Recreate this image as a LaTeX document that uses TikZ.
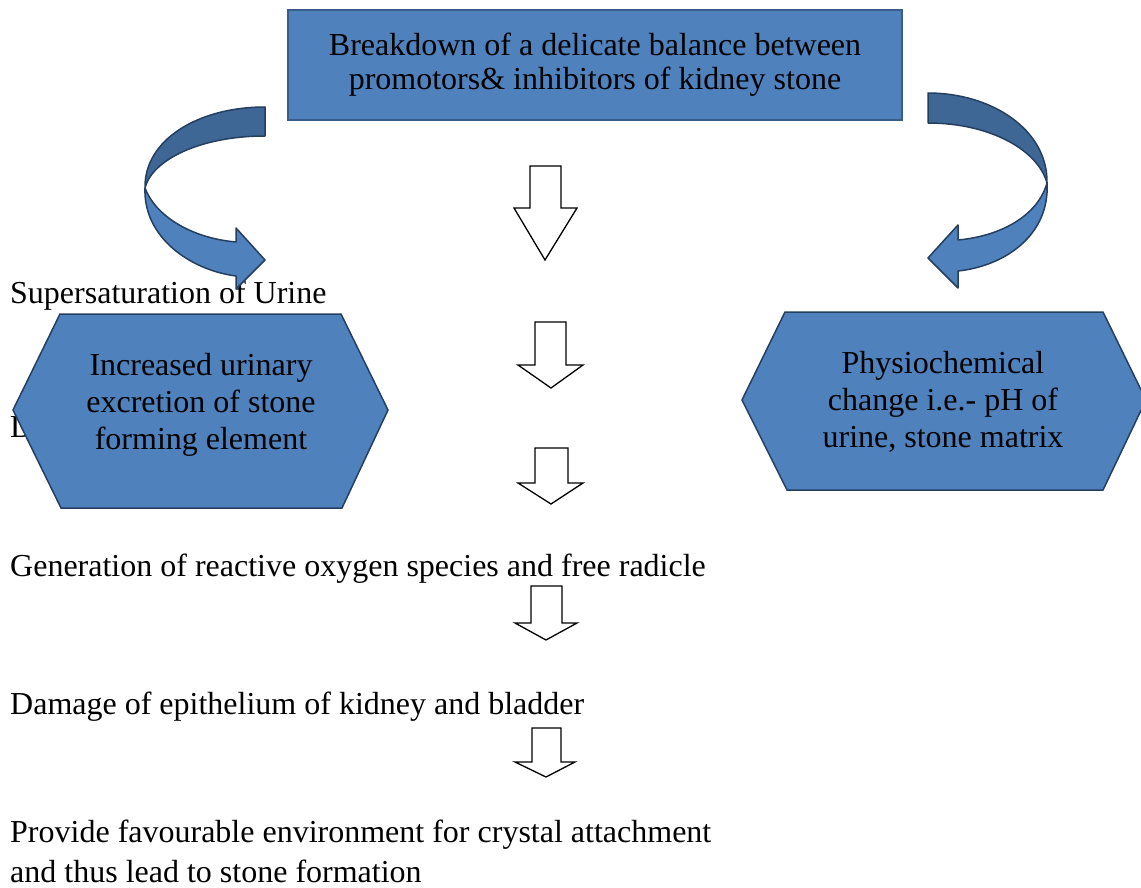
\documentclass[tikz,border=0pt]{standalone}
\usepackage{fontspec}
\setmainfont{Liberation Serif}
\usepackage{xcolor}
\usepackage{tikz}
\usetikzlibrary{arrows.meta,positioning,calc}
\definecolor{stoneblue}{HTML}{4F81BD}
\definecolor{stoneedge}{HTML}{385D8A}
\definecolor{stoneshade}{HTML}{3E6796}
\definecolor{navyline}{HTML}{243F60}

\begin{document}
\begin{tikzpicture}[x=1pt,y=-1pt,
  topbox/.style={draw=stoneedge,line width=2pt,fill=stoneblue,minimum width=614pt,minimum height=110pt,align=center,inner sep=0pt,font=\fontsize{32}{34}\selectfont},
  hexbox/.style={draw=navyline,line width=1.5pt,fill=stoneblue},
  hextext/.style={align=center,inner sep=0pt,font=\fontsize{32}{37}\selectfont},
  txt/.style={anchor=base west,inner sep=0pt,align=left,font=\fontsize{32}{40}\selectfont},
  curvfront/.style={draw=navyline,line width=1.5pt,fill=stoneblue,line join=round},
  curvback/.style={draw=navyline,line width=1.5pt,fill=stoneshade,line join=round},
  blockarr/.style={draw=black,line width=1.3pt,fill=white,line join=miter}
]
\useasboundingbox (0,0) rectangle (1141,888);
\node[topbox] (top) at (595,65) {Breakdown of a delicate balance between\\promotors\& inhibitors of kidney stone};
\node[txt] (sat) at (10,303) {Supersaturation of Urine};
\node[txt] (dep) at (10,437) {D};
\node[txt] (ros) at (10,576) {Generation of reactive oxygen species and free radicle};
\node[txt] (dmg) at (10,714) {Damage of epithelium of kidney and bladder};
\node[txt] (env) at (10,882) {Provide favourable environment for crystal attachment\\and thus lead to stone formation};
\draw[curvback] (265,107) .. controls (198,107) and (144,140) .. (145,188) .. controls (152,160) and (200,136) .. (265,136) -- cycle;
\draw[curvfront] (145,188) .. controls (143,237) and (190,270) .. (236,276) -- (236,289) -- (265,260) -- (236,228) -- (236,242) .. controls (190,238) and (155,215) .. (145,188) -- cycle;
\draw[curvback] (928,93) .. controls (992,93) and (1048,130) .. (1047,183) .. controls (1038,150) and (990,123) .. (928,123) -- cycle;
\draw[curvfront] (1047,183) .. controls (1050,235) and (1005,266) .. (958,271) -- (958,288) -- (928,258) -- (958,225) -- (958,240) .. controls (1002,236) and (1038,215) .. (1047,183) -- cycle;
\foreach \l/\r/\t/\s/\hl/\hr/\x/\y in {530/561/166/208/514/577/545/260,535/566/322/365/518/583/551/388,535/568/448/483/518/583/551/504,531/562/586/623/515/577/546/640,532/561/728/762/515/575/546/777} {\draw[blockarr] (\l,\t) -- (\r,\t) -- (\r,\s) -- (\hr,\s) -- (\x,\y) -- (\hl,\s) -- (\l,\s) -- cycle;}
\draw[hexbox] (13,410) -- (60,314) -- (341,314) -- (388,410) -- (342,508) -- (61,508) -- cycle;
\node[hextext] (urin) at (201,405) {Increased urinary\\excretion of stone\\forming element};
\draw[hexbox] (742,400) -- (785,312) -- (1103,312) -- (1146,400) -- (1103,490) -- (787,490) -- cycle;
\node[hextext] (phys) at (943,402) {Physiochemical\\change i.e.- pH of\\urine, stone matrix};
\end{tikzpicture}
\end{document}
